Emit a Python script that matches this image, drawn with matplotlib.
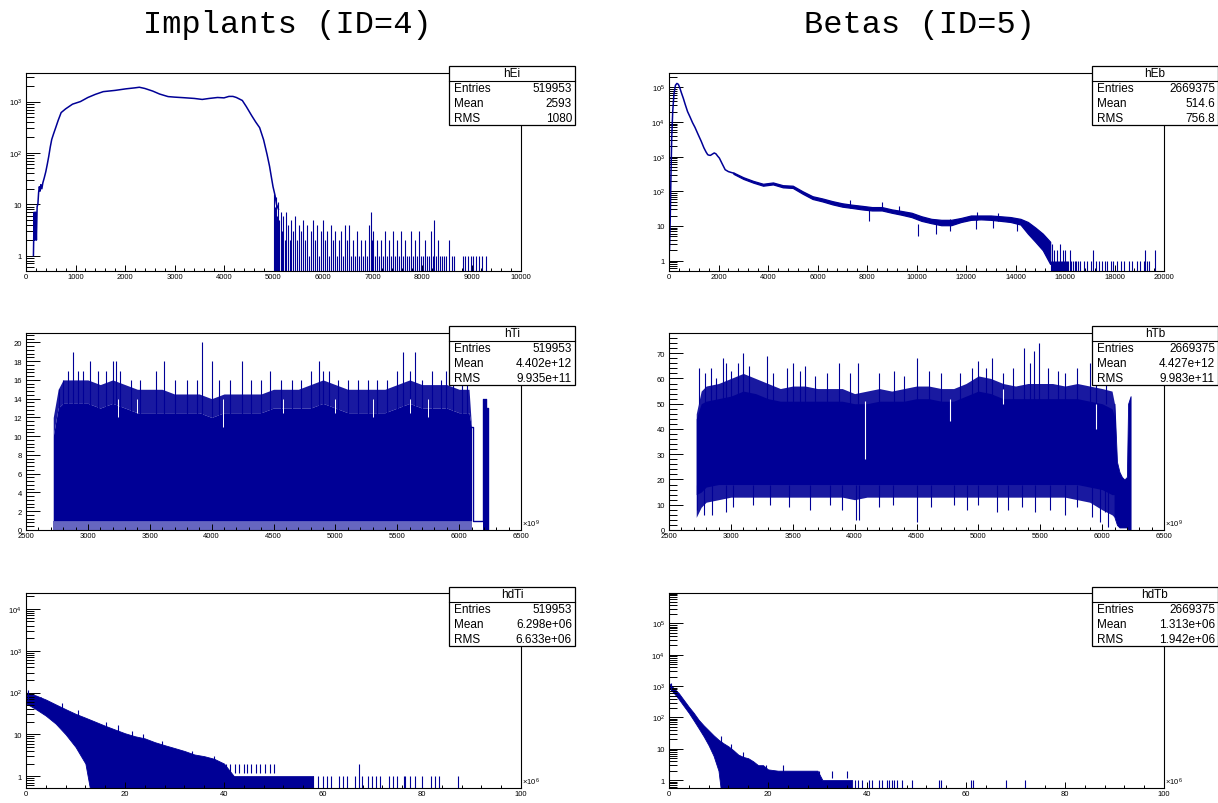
import matplotlib
matplotlib.use('Agg')
import matplotlib.pyplot as plt
import numpy as np
from matplotlib.patches import Rectangle
from matplotlib.lines import Line2D
from matplotlib.ticker import (MultipleLocator, FixedLocator, LogLocator,
                               FuncFormatter, NullFormatter)

plt.rcParams['font.family'] = ['Liberation Sans', 'DejaVu Sans']
plt.rcParams['mathtext.default'] = 'regular'

W, H = 1218, 804
NAVY = '#000096'

# --- Implants energy (hEi), log y --- #
hEi_x = [150, 165, 180, 195, 210, 225, 240, 255, 270, 285, 300, 320, 340, 370,
         400, 430, 460, 490, 520, 560, 600, 650, 710, 800, 940, 1100, 1250,
         1400, 1560, 1800, 2020, 2200, 2290, 2400, 2560, 2700, 2870, 3000,
         3180, 3400, 3560, 3700, 3870, 4000, 4100, 4180, 4250, 4370, 4450,
         4560, 4640, 4720, 4800, 4870, 4920, 4950, 4990, 5030, 5060, 5100]
hEi_y = [1, 7, 2, 7, 2, 9, 10, 17, 22, 18, 24, 20, 26, 33,
         43, 60, 86, 130, 183, 240, 310, 430, 610, 720, 890, 1000, 1200,
         1380, 1560, 1650, 1770, 1850, 1900, 1800, 1600, 1400, 1250, 1220,
         1190, 1150, 1100, 1150, 1200, 1180, 1260, 1260, 1200, 1050, 800,
         530, 400, 310, 180, 93, 55, 37, 22, 15, 10, 8]
hEi_tail = [(5010, 16), (5040, 9), (5060, 14), (5080, 6), (5100, 11), (5120, 5),
            (5150, 7), (5180, 3), (5200, 6), (5230, 2), (5260, 7), (5300, 4),
            (5330, 2), (5360, 5), (5400, 3), (5440, 6), (5480, 2), (5520, 4),
            (5560, 3), (5600, 5), (5640, 2), (5680, 4), (5720, 1), (5760, 3),
            (5800, 5), (5840, 2), (5880, 4), (5920, 1), (5960, 3), (6000, 5),
            (6040, 2), (6080, 3), (6120, 1), (6160, 4), (6200, 2), (6240, 3),
            (6280, 1), (6320, 2), (6360, 3), (6400, 1), (6440, 4), (6480, 2),
            (6520, 4), (6560, 1), (6600, 2), (6640, 1), (6680, 3), (6720, 1),
            (6760, 2), (6800, 1), (6840, 2), (6880, 1), (6920, 4), (6960, 7),
            (6990, 2), (7020, 3), (7060, 1), (7100, 2), (7140, 1), (7180, 2),
            (7220, 1), (7260, 3), (7300, 1), (7340, 2), (7380, 1), (7420, 3),
            (7460, 1), (7500, 2), (7540, 1), (7580, 3), (7620, 1), (7660, 2),
            (7700, 1), (7740, 1), (7780, 3), (7820, 1), (7860, 2), (7900, 1),
            (7940, 3), (7980, 1), (8020, 1), (8060, 2), (8100, 1), (8140, 1),
            (8180, 3), (8220, 1), (8250, 5), (8290, 1), (8330, 2), (8370, 1),
            (8410, 1), (8450, 1), (8490, 1), (8550, 2), (8600, 1), (8640, 1),
            (8820, 1), (8870, 1), (8930, 1), (8980, 1), (9040, 1), (9100, 1),
            (9150, 1), (9220, 1), (9300, 1)]

# --- Betas energy (hEb), log y --- #
hEb_x = [20, 50, 80, 110, 150, 200, 260, 320, 380, 440, 500, 580, 650, 750,
         850, 950, 1050, 1175, 1300, 1410, 1500, 1565, 1620, 1675, 1750, 1830,
         1900, 1960, 2035, 2150, 2270, 2400, 2600]
hEb_y = [2, 16, 300, 3500, 20000, 64000, 115000, 130000, 122000, 95000, 70000,
         48000, 33000, 20000, 14000, 9600, 7000, 4400, 2800, 1800, 1350, 1140,
         1100, 1090, 1180, 1280, 1200, 1050, 910, 620, 420, 370, 335]
hEb_bx = [2600, 3000, 3400, 3800, 4200, 4600, 5000, 5400, 5800, 6200, 6600,
          7000, 7400, 7800, 8200, 8600, 9000, 9400, 9800, 10200, 10600, 11000,
          11400, 11800, 12200, 12600, 13000, 13400, 13800, 14200, 14500, 14800,
          15100, 15400]
hEb_hi = [350, 255, 200, 165, 180, 150, 145, 100, 72, 62, 52, 45, 41, 38, 35,
          35, 30, 27, 24, 19, 16, 15, 15, 17, 20, 20, 20, 19, 18, 16, 13, 9,
          6, 3.5]
hEb_lo = [320, 228, 178, 145, 158, 130, 125, 85, 60, 51, 42, 36, 33, 30, 28,
          28, 24, 21, 18, 14, 12, 10.5, 10.5, 13, 15, 15.5, 15, 14, 13, 11, 6,
          3.5, 2, 0.8]
hEb_peaks = [(7300, 55), (8610, 50), (9300, 38), (12450, 25), (13300, 24)]
hEb_dips = [(8100, 14), (10050, 5), (10800, 6), (11350, 7), (12400, 8),
            (13100, 9), (14050, 7)]
hEb_tail = [(15420, 1), (15460, 3), (15500, 1), (15540, 2), (15580, 1),
            (15620, 1), (15660, 2), (15700, 1), (15740, 1), (15780, 3),
            (15820, 1), (15860, 1), (15900, 2), (15940, 1), (15980, 1),
            (16020, 2), (16060, 1), (16100, 1), (16140, 1), (16200, 2),
            (16260, 1), (16320, 1), (16400, 1), (16460, 1), (16540, 1),
            (16620, 1), (16780, 1), (16900, 1), (17050, 1), (17120, 2),
            (17250, 1), (17380, 1), (17500, 1), (17620, 1), (17700, 1),
            (17850, 1), (17950, 1), (18100, 1), (18250, 1), (18400, 1),
            (18600, 1), (18700, 1), (18900, 1), (19050, 1), (19180, 1),
            (19250, 2), (19320, 1), (19400, 1), (19650, 2)]

# --- Implant timestamps (hTi), linear y, x in 1e9 --- #
hT_x = [2720, 2760, 2800, 2900, 3000, 3100, 3200, 3300, 3400, 3500, 3600,
        3700, 3800, 3900, 4000, 4100, 4200, 4300, 4400, 4500, 4600, 4700,
        4800, 4900, 5000, 5100, 5200, 5300, 5400, 5500, 5600, 5700, 5800,
        5900, 6000, 6080, 6100]
hTi_hi = [12, 15, 16, 16, 16, 15.5, 16, 15.5, 15, 15, 15, 14.5, 14.5, 14.5,
          14, 14.5, 14.5, 14.5, 14.5, 15, 15, 15, 15.5, 16, 15.5, 15, 15, 15,
          15, 15.5, 16, 15.5, 15.5, 15.5, 15, 15, 11]
hTi_core = [10, 13, 13.5, 13.5, 13.5, 13, 13.5, 13, 12.5, 12.5, 12.5, 12.5,
            12.5, 12.5, 12, 12.5, 12.5, 12.5, 12.5, 13, 13, 13, 13, 13.5, 13,
            12.5, 12.5, 12.5, 12.5, 13, 13.5, 13, 13, 13, 12.5, 12.5, 11]
hTi_spikes = [(2770, 15), (2800, 16), (2840, 17), (2882, 19), (2920, 17),
              (2960, 17), (3021, 18), (3080, 17), (3150, 17), (3200, 18),
              (3225, 18), (3260, 17), (3350, 16), (3420, 16), (3550, 17),
              (3616, 18), (3700, 16), (3800, 16), (3880, 16), (3921, 20),
              (4002, 18), (4060, 16), (4150, 16), (4242, 18), (4320, 16),
              (4400, 16), (4470, 17), (4560, 16), (4650, 16), (4720, 16),
              (4800, 17), (4871, 18), (4900, 17), (4950, 17), (5020, 16),
              (5100, 16), (5180, 16), (5260, 16), (5340, 16), (5420, 16),
              (5500, 17), (5549, 19), (5600, 17), (5641, 19), (5700, 16),
              (5780, 17), (5850, 16), (5897, 17), (5950, 17), (6020, 16),
              (6060, 16)]
hTi_notches = [(3240, 12), (3400, 12.5), (4088, 11), (4580, 12.5),
               (5000, 12.5), (5300, 12), (5600, 12.5), (5750, 12)]
hTi_end_x = [6100, 6110, 6185, 6190, 6200, 6210, 6220, 6230]
hTi_end_n = [11, 1, 1, 14, 12, 14, 13, 0]

# --- Beta timestamps (hTb) --- #
hTb_hi = [46, 55, 57, 58, 60, 62, 60, 58, 56, 57, 57, 56, 56, 56, 54, 55, 56,
          55, 56, 57, 57, 56, 56, 58, 61, 60, 58, 57, 58, 58, 58, 57, 58, 57,
          56, 55, 50]
hTb_core_hi = [44, 50, 51, 52, 53, 55, 54, 52, 51, 51, 51, 51, 51, 51, 50, 50,
               51, 51, 51, 52, 52, 51, 51, 53, 55, 54, 52, 52, 52, 52, 52, 52,
               52, 51, 50, 48, 45]
hTb_core_lo = [14, 15, 17, 18, 18, 18, 18, 18, 18, 18, 18, 18, 18, 18, 18, 18,
               18, 18, 18, 18, 18, 18, 18, 18, 18, 18, 18, 18, 18, 18, 18, 18,
               18, 17, 16, 14, 14]
hTb_lo = [5, 9, 11, 12, 13, 13, 13, 13, 13, 13, 13, 13, 13, 13, 12, 13, 13, 13,
          13, 13, 13, 13, 13, 13, 13, 13, 13, 13, 13, 13, 13, 13, 12, 11, 8,
          6, 5]
hTb_up = [(2745, 64), (2790, 62), (2840, 64), (2880, 60), (2935, 68),
          (2960, 66), (3000, 63), (3060, 66), (3095, 70), (3150, 65),
          (3290, 69), (3340, 62), (3450, 64), (3500, 66), (3560, 63),
          (3600, 65), (3680, 61), (3780, 62), (3870, 66), (3960, 62),
          (4030, 66), (4200, 62), (4320, 63), (4400, 61), (4500, 68),
          (4600, 63), (4700, 62), (4850, 62), (4950, 64), (5000, 67),
          (5060, 64), (5110, 68), (5200, 62), (5280, 64), (5370, 72),
          (5420, 66), (5450, 71), (5490, 74), (5560, 64), (5640, 63),
          (5700, 62), (5800, 64), (5900, 66), (5950, 62), (6030, 62)]
hTb_down = [(2730, 8), (2780, 6), (2850, 6), (2960, 7), (3020, 9), (3180, 10),
            (3320, 10), (3470, 9), (3640, 8), (3800, 10), (3900, 8),
            (4010, 4), (4035, 4), (4200, 9), (4310, 10), (4500, 3), (4620, 9),
            (4800, 10), (4910, 8), (5000, 10), (5150, 7), (5240, 8),
            (5350, 9), (5460, 7), (5580, 8), (5700, 6), (5800, 9), (5920, 5),
            (5980, 3), (6020, 7), (6050, 1)]
hTb_notches = [(4080, 28, 51), (4770, 43, 52), (5200, 50, 56), (5950, 40, 50)]
hTb_end_x = [6100, 6120, 6140, 6160, 6180, 6200, 6210, 6230]
hTb_end_hi = [50, 27, 23, 21, 20, 21, 50, 53]
hTb_end_lo = [5, 2, 1, 1, 1, 1, 0, 0]

# --- Implant time differences (hdTi), log y, x in 1e6 --- #
hdTi_x = [0, 2, 4, 6, 8, 10, 12, 14, 16, 18, 20, 22, 24, 26, 28, 30, 32, 34,
          36, 38, 40, 42, 44, 46, 48, 50, 52, 54, 56, 58]
hdTi_hi = [100, 85, 68, 52, 40, 31, 25, 20, 16, 13, 10.6, 9, 8, 6.5, 5.5, 4.7,
           4, 3.3, 3, 2.6, 2, 1, 1, 1, 1, 1, 1, 1, 1, 1]
hdTi_lo = [55, 40, 28, 18, 10, 5, 2, 0.1, 0.1, 0.1, 0.1, 0.1, 0.1, 0.1, 0.1,
           0.1, 0.1, 0.1, 0.1, 0.1, 0.1, 0.1, 0.1, 0.1, 0.1, 0.1, 0.1, 0.1,
           0.1, 0.1]
hdTi_spikes = [(0.5, 115), (3, 80), (7.3, 55), (10.6, 38), (16.2, 20),
               (18.5, 17), (21.5, 12), (23.7, 10), (27.5, 7), (33.6, 4),
               (38, 3), (40.5, 2), (41.3, 2), (42.2, 2), (43.1, 2), (44, 2),
               (44.6, 2), (45.5, 2), (46.4, 2), (47.3, 2), (48.3, 2),
               (49.2, 2), (50.2, 2)]
hdTi_tail = [(58.0, 1), (59.0, 1), (60.0, 1), (60.8, 1), (61.7, 1), (63.2, 1),
             (64.1, 1), (64.9, 1), (66.5, 1), (67.2, 2), (67.8, 1), (69.0, 1),
             (69.9, 1), (70.7, 1), (71.5, 1), (73.4, 1), (74.2, 1), (74.9, 1),
             (76.3, 1), (76.6, 1), (77.6, 1), (78.6, 1), (80.0, 1), (81.9, 1),
             (82.7, 1), (83.4, 1), (87.3, 1)]

# --- Beta time differences (hdTb) --- #
hdTb_x = [0, 1, 2, 3, 4, 5, 6, 7, 8, 9, 10, 11, 12, 13, 14, 15, 16, 17, 18,
          19, 20, 22, 24, 26, 28, 30, 31, 33, 35, 37]
hdTb_hi = [1250, 850, 590, 360, 220, 140, 84, 56, 39, 27, 19.5, 15, 12, 9,
           6.5, 5.5, 5, 4, 3, 3, 2.2, 2, 2, 2, 2, 2, 1, 1, 1, 1]
hdTb_lo = [900, 600, 380, 230, 140, 80, 45, 25, 13, 6, 2, 0.1, 0.1, 0.1, 0.1,
           0.1, 0.1, 0.1, 0.1, 0.1, 0.1, 0.1, 0.1, 0.1, 0.1, 0.1, 0.1, 0.1,
           0.1, 0.1]
hdTb_spikes = [(0.4, 1300), (10.6, 26), (12.5, 14), (14.9, 8), (19.6, 3),
               (23.1, 3), (30.3, 2), (33, 2), (36, 2)]
hdTb_tail = [(37.5, 1), (38.2, 1), (39, 1), (40.5, 1), (41, 1), (42.5, 1),
             (43, 1), (44, 1), (44.5, 1), (45, 1), (45.5, 1), (46, 1), (47, 1),
             (49, 1), (54.5, 1), (55, 1), (61, 1), (61.5, 1), (68, 1), (72, 1)]

# --- Stats boxes --- #
stat_names = ['hEi', 'hEb', 'hTi', 'hTb', 'hdTi', 'hdTb']
stat_entries = ['519953', '2669375', '519953', '2669375', '519953', '2669375']
stat_mean = ['2593', '514.6', '4.402e+12', '4.427e+12', '6.298e+06',
             '1.313e+06']
stat_rms = ['1080', '756.8', '9.935e+11', '9.983e+11', '6.633e+06',
            '1.942e+06']

col_titles = ['Implants (ID=4)', 'Betas (ID=5)']


fig = plt.figure(figsize=(W / 100, H / 100), dpi=100)
fig.patch.set_facecolor('white')

cols = [(26, 521), (669, 1164)]
rows = [(74, 272), (334, 531), (594, 789)]


def px_axes(col, row):
    l, r = cols[col]
    t, b = rows[row]
    return fig.add_axes([l / W, 1 - b / H, (r - l) / W, (b - t) / H])


def log_label(v, pos):
    e = int(round(np.log10(v)))
    return {0: '1', 1: '10'}.get(e, r'$10^{%d}$' % e)


def style(ax, xlim, xmaj, xmin_, ylim, ymaj=None, ymin_=None, log=False):
    ax.set_xlim(*xlim)
    if log:
        ax.set_yscale('log', nonpositive='clip')
        # only the decades that lie inside the frame get a label
        decades = [10.0 ** e for e in range(0, 7) if 10.0 ** e <= ylim[1]]
        ax.yaxis.set_major_locator(FixedLocator(decades))
        ax.yaxis.set_minor_locator(LogLocator(base=10,
                                              subs=(2, 3, 4, 5, 6, 7, 8, 9),
                                              numticks=12))
        ax.yaxis.set_major_formatter(FuncFormatter(log_label))
        ax.yaxis.set_minor_formatter(NullFormatter())
    else:
        ax.yaxis.set_major_locator(MultipleLocator(ymaj))
        ax.yaxis.set_minor_locator(MultipleLocator(ymin_))
    ax.set_ylim(*ylim)
    ax.xaxis.set_major_locator(MultipleLocator(xmaj))
    ax.xaxis.set_minor_locator(MultipleLocator(xmin_))
    ax.tick_params(axis='both', which='both', direction='in', top=False,
                   right=False, width=0.7, colors='black', labelsize=5.5)
    ax.tick_params(axis='y', which='major', length=10, pad=3)
    ax.tick_params(axis='y', which='minor', length=5.5)
    ax.tick_params(axis='x', which='major', length=4, pad=1.5)
    ax.tick_params(axis='x', which='minor', length=2)
    for s in ax.spines.values():
        s.set_linewidth(0.8)


def spikes(ax, pairs, base, lw=0.8, color=NAVY):
    # base: a number, or 'half' to start each spike a bit below its top
    xs = [p[0] for p in pairs]
    ns = [p[1] for p in pairs]
    if base == 'half':
        base = [n / 1.7 for n in ns]
    ax.vlines(xs, base, ns, colors=color, lw=lw)


def stats_box(left, top, i):
    x0, x1 = left / W, (left + 126) / W
    yt = 1 - top / H
    hr = 14.75 / H
    fig.add_artist(Rectangle((x0, yt - 4 * hr), x1 - x0, 4 * hr,
                             transform=fig.transFigure, fc='white',
                             ec='black', lw=0.9, zorder=10))
    fig.add_artist(Line2D([x0, x1], [yt - hr, yt - hr], color='black',
                          lw=0.8, transform=fig.transFigure, zorder=11))
    kw = dict(fontsize=8.5, va='center', zorder=12)
    fig.text((x0 + x1) / 2, yt - hr / 2, stat_names[i], ha='center', **kw)
    for k, (lab, val) in enumerate([('Entries', stat_entries[i]),
                                    ('Mean', stat_mean[i]),
                                    ('RMS', stat_rms[i])]):
        y = yt - (k + 1.5) * hr
        fig.text(x0 + 5 / W, y, lab, ha='left', **kw)
        fig.text(x1 - 3 / W, y, val, ha='right', **kw)


def exponent(ax, txt):
    ax.text(1.003, 0.005, txt, transform=ax.transAxes, ha='left',
            va='bottom', fontsize=5.5)


# hEi
ax = px_axes(0, 0)
style(ax, (0, 10000), 1000, 200, (0.5, 3600), log=True)
spikes(ax, hEi_tail, 0.3)
ax.plot(hEi_x, hEi_y, color=NAVY, lw=1.1)

# hEb
ax = px_axes(1, 0)
style(ax, (0, 20000), 2000, 400, (0.5, 2.6e5), log=True)
ax.plot(hEb_x, hEb_y, color=NAVY, lw=1.1)
ax.fill_between(hEb_bx, hEb_lo, hEb_hi, color=NAVY, lw=0.9)
spikes(ax, hEb_peaks, 'half')
ax.vlines([p[0] for p in hEb_dips], [p[1] for p in hEb_dips],
          [p[1] * 2.2 for p in hEb_dips], colors=NAVY, lw=0.8)
spikes(ax, hEb_tail, 0.3)

# hTi
ax = px_axes(0, 1)
style(ax, (2500, 6500), 500, 100, (0, 21), 2, 0.4)
ax.fill_between(hT_x, 0, 1, color=NAVY, alpha=0.6, lw=0)
ax.fill_between(hT_x, 1, hTi_core, color=NAVY, lw=0)
ax.fill_between(hT_x, hTi_core, hTi_hi, color=NAVY, alpha=0.9, lw=0)
spikes(ax, hTi_spikes, 12)
ax.vlines([p[0] for p in hTi_notches], [p[1] for p in hTi_notches], 14,
          colors='white', lw=0.7)
ax.step(hTi_end_x, hTi_end_n, where='post', color=NAVY, lw=1)
ax.fill_between(hTi_end_x[3:], 0, hTi_end_n[3:], step='post', color=NAVY,
                lw=0)
exponent(ax, r'$\times10^{9}$')

# hTb
ax = px_axes(1, 1)
style(ax, (2500, 6500), 500, 100, (0, 78), 10, 2)
ax.fill_between(hT_x, hTb_lo, hTb_hi, color=NAVY, alpha=0.9, lw=0)
ax.fill_between(hT_x, hTb_core_lo, hTb_core_hi, color=NAVY, lw=0)
spikes(ax, hTb_up, 50)
ax.vlines([p[0] for p in hTb_down], [p[1] for p in hTb_down], 18,
          colors=NAVY, lw=0.8)
ax.vlines([p[0] for p in hTb_notches], [p[1] for p in hTb_notches],
          [p[2] for p in hTb_notches], colors='white', lw=0.8)
ax.fill_between(hTb_end_x, hTb_end_lo, hTb_end_hi, color=NAVY, lw=0.6)
exponent(ax, r'$\times10^{9}$')

# hdTi
ax = px_axes(0, 2)
style(ax, (0, 100), 20, 4, (0.52, 2.4e4), log=True)
ax.fill_between(hdTi_x, hdTi_lo, hdTi_hi, color=NAVY, lw=0.6)
spikes(ax, hdTi_spikes, 'half')
spikes(ax, hdTi_tail, 0.3)
exponent(ax, r'$\times10^{6}$')

# hdTb
ax = px_axes(1, 2)
style(ax, (0, 100), 20, 4, (0.56, 9.4e5), log=True)
ax.fill_between(hdTb_x, hdTb_lo, hdTb_hi, color=NAVY, lw=0.6)
spikes(ax, hdTb_spikes, 'half')
spikes(ax, hdTb_tail, 0.3)
exponent(ax, r'$\times10^{6}$')

for i, (left, top) in enumerate([(449, 67), (1092, 67), (449, 327),
                                 (1092, 327), (449, 588), (1092, 588)]):
    stats_box(left, top, i)

for x, t in zip([287, 919], col_titles):
    fig.text(x / W, 1 - 25 / H, t, ha='center', va='center',
             family='Liberation Mono', fontsize=23)

fig.savefig('out.png', dpi=100)
